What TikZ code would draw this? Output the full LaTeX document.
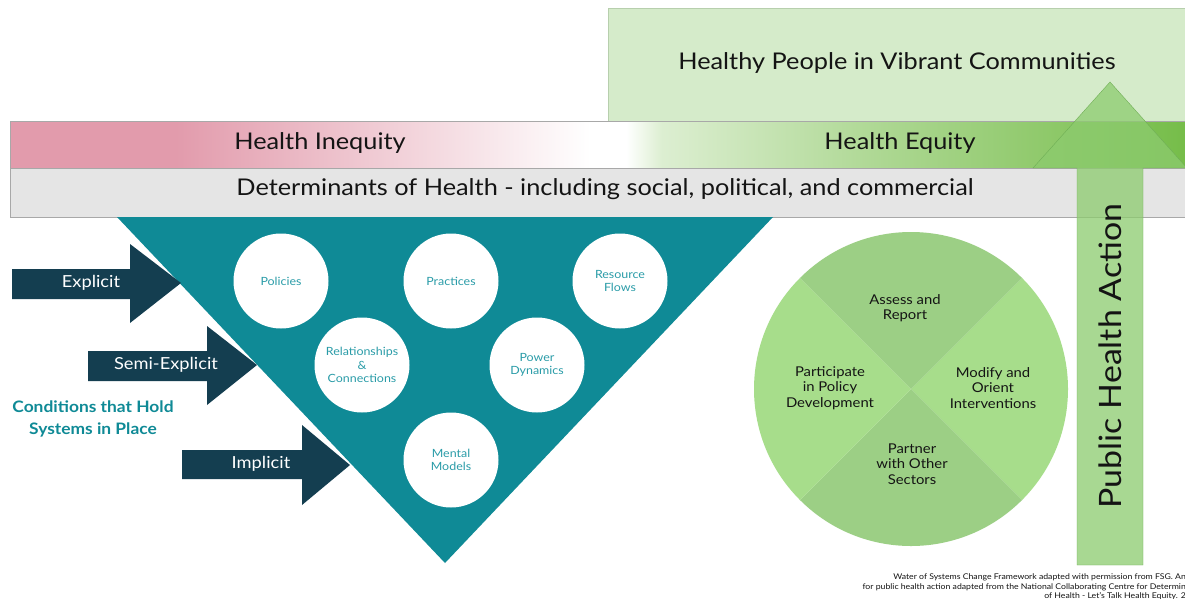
\documentclass[tikz,border=0pt]{standalone}
\usepackage{fontspec}
\setmainfont{Lato}[FakeStretch=1.1]
\definecolor{ink}{HTML}{141414}
\definecolor{inequity}{HTML}{E29BAC}
\definecolor{equity}{HTML}{74BC47}
\colorlet{equitypale}{equity!25!white}
\colorlet{equitylight}{equity!60!white}
\definecolor{goalgreen}{HTML}{D5EBCA}
\definecolor{goaledge}{HTML}{B7CFAD}
\definecolor{sdohgray}{HTML}{E5E5E5}
\definecolor{bandedge}{HTML}{A8A8A8}
\definecolor{waterteal}{HTML}{0F8A96}
\definecolor{circtext}{HTML}{2A9CA8}
\definecolor{navy}{HTML}{143E50}
\definecolor{pielight}{HTML}{A7DD8B}
\definecolor{piedark}{HTML}{9CCF85}
\definecolor{actgreen}{HTML}{8CCB6E}
\definecolor{actedge}{HTML}{6FAE55}
\pgfdeclarehorizontalshading{equityband}{100bp}{color(0bp)=(inequity); color(32bp)=(inequity); color(49.5bp)=(white); color(51bp)=(white); color(52.5bp)=(equitypale); color(62bp)=(equitylight); color(75bp)=(equity); color(100bp)=(equity)}
\tikzset{
  circ/.style={circle, fill=white, minimum size=95pt, inner sep=0pt, text=circtext, align=center, font=\fontsize{11.3}{13.5}\selectfont},
  arrowlabel/.style={text=white, font=\fontsize{16.6}{19}\selectfont},
  pielabel/.style={text=ink, align=center, font=\fontsize{13.5}{15.5}\selectfont},
  bandlabel/.style={text=ink, font=\fontsize{23}{27}\selectfont},
  credit/.style={anchor=east, inner sep=0pt, text=ink, font=\fontsize{7.9}{9}\selectfont}
}
\begin{document}
\begin{tikzpicture}[x=1pt, y=-1pt]
        \def\r{157}

        \fill[white] (0,0) rectangle (1185,598);
        \clip (0,0) rectangle (1185,598);

        \draw[goaledge, fill=goalgreen] (608,8) rectangle (1195,121);
        \node[bandlabel] (goal) at (897,63) {Healthy People in Vibrant Communities};

        \shade[shading=equityband] (10,121) rectangle (1195,168);
        \draw[bandedge] (10,121) rectangle (1195,168);
        \draw[bandedge, fill=sdohgray] (10,168) rectangle (1195,217);
        \node[bandlabel] (inequity) at (320,143) {Health Inequity};
        \node[bandlabel] (equity) at (900,143) {Health Equity};
        \node[bandlabel] (sdoh) at (605,189) {Determinants of Health - including social, political, and commercial};

        \fill[waterteal] (117,217) -- (773,217) -- (445,563) -- cycle;

        \node[circ] (policies) at (281,281) {Policies};
        \node[circ] (practices) at (451,281) {Practices};
        \node[circ] (flows) at (620,281) {Resource\\Flows};
        \node[circ] (relations) at (362,365) {Relationships\\\&\\Connections};
        \node[circ] (power) at (537,365) {Power\\Dynamics};
        \node[circ] (models) at (451,460) {Mental\\Models};

        \fill[navy] (12,269) -- (130,269) -- (130,244) -- (181,283) -- (130,323) -- (130,299) -- (12,299) -- cycle;
        \fill[navy] (88,351) -- (207,351) -- (207,326) -- (257,365) -- (207,405) -- (207,381) -- (88,381) -- cycle;
        \fill[navy] (182,450) -- (302,450) -- (302,425) -- (350,465) -- (302,505) -- (302,479) -- (182,479) -- cycle;
        \node[arrowlabel] (explicit) at (91,283) {Explicit};
        \node[arrowlabel] (semi) at (166,365) {Semi-Explicit};
        \node[arrowlabel] (implicit) at (261,464) {Implicit};

        \node[text=waterteal, align=center, font=\bfseries\fontsize{15.8}{22}\selectfont] (conditions) at (93,419) {Conditions that Hold\\Systems in Place};

        \coordinate (pie) at (911,389);
        \fill[pielight] (pie) -- ++(-45:\r) arc (-45:45:\r) -- cycle;
        \fill[piedark] (pie) -- ++(45:\r) arc (45:135:\r) -- cycle;
        \fill[pielight] (pie) -- ++(135:\r) arc (135:225:\r) -- cycle;
        \fill[piedark] (pie) -- ++(225:\r) arc (225:315:\r) -- cycle;
        \node[pielabel] (assess) at (905,308) {Assess and\\Report};
        \node[pielabel] (participate) at (830,388) {Participate\\in Policy\\Development};
        \node[pielabel] (modify) at (993,388) {Modify and\\Orient\\Interventions};
        \node[pielabel] (partner) at (912,464) {Partner\\with Other\\Sectors};

        \draw[actedge, fill=actgreen, fill opacity=0.75] (1077,565) -- (1077,168) -- (1033,168) -- (1110,82) -- (1187,168) -- (1143,168) -- (1143,565) -- cycle;
        \node[rotate=90, text=ink, font=\fontsize{30.8}{36}\selectfont] (action) at (1110,356) {Public Health Action};

        \node[credit] (credit1) at (1186,577) {Water of Systems Change Framework adapted with permission from FSG. An};
        \node[credit] (credit2) at (1186,587) {for public health action adapted from the National Collaborating Centre for Determin};
        \node[credit] (credit3) at (1186,596) {of Health - Let's Talk Health Equity. 2};
    \end{tikzpicture}
\end{document}
